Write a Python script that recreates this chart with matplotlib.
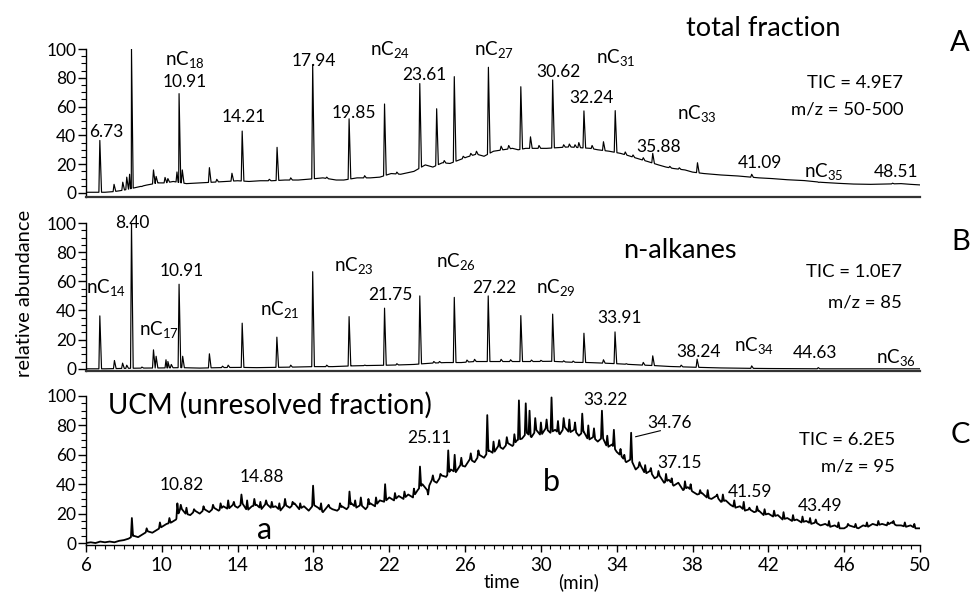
import numpy as np
import matplotlib
matplotlib.use("Agg")
import matplotlib.pyplot as plt
from matplotlib.ticker import MultipleLocator

plt.rcParams['font.family'] = ['Lato', 'DejaVu Sans']
plt.rcParams['mathtext.fontset'] = 'custom'
plt.rcParams['mathtext.rm'] = 'Lato'
plt.rcParams['mathtext.it'] = 'Lato:italic'

# ---------------- data ----------------
# Panel A: total fraction
a_base_t = [6, 6.5, 7, 7.5, 8, 8.7, 9.2, 9.8, 10.2, 10.6, 11.3, 12, 12.7, 13.4, 14, 14.6, 15.2,
            15.8, 16.5, 17.2, 17.7, 18.5, 19.2, 19.6, 20.3, 21, 21.5, 22.1, 22.6, 23.3, 23.9,
            24.3, 24.8, 25.2, 25.7, 26.1, 26.6, 27.0, 27.5, 28.0, 28.5, 28.8, 29.2, 29.8, 30.3,
            30.9, 31.5, 32.0, 32.6, 33.0, 33.6, 34.2, 34.6, 35.2, 35.6, 36.2, 36.6, 37.0, 37.6,
            38.0, 38.6, 39.5, 40.4, 41.5, 42.2, 43.0, 43.9, 44.8, 45.7, 46.5, 47.4, 48.2, 49.0,
            49.5, 50]
a_base_v = [0.5, 0.5, 0.5, 1, 2, 4, 5.5, 7, 7, 8, 6.5, 7, 7.5, 8, 8.5, 8, 8.5,
            8.5, 9, 9, 9.5, 10.5, 9, 9, 10.5, 10.5, 11, 13.5, 13, 15, 19.5,
            18, 21, 20.5, 23, 25, 27, 25.5, 29, 30, 31, 30, 31, 31, 31,
            31.5, 32, 31.5, 31, 30, 29, 27.5, 26, 23.5, 22, 19.5, 18, 17, 16,
            14.5, 13.5, 12.5, 11.8, 10.5, 10, 9.2, 8.6, 7.4, 6.7, 6.2, 6, 6.2, 6.5,
            6, 5.6]
a_peak_t = [6.73, 7.48, 7.94, 8.15, 8.30, 8.40, 8.94, 9.56, 9.70, 10.17, 10.32, 10.80, 10.91,
            11.08, 12.51, 12.9, 13.70, 14.24, 15.67, 16.08, 16.8, 17.96, 18.7, 19.88, 20.7,
            21.75, 22.4, 23.61, 24.50, 24.9, 25.43, 25.9, 26.3, 26.6, 27.23, 27.9, 28.3,
            28.94, 29.45, 29.9, 30.62, 31.2, 31.5, 31.8, 32.0, 32.27, 32.7, 33.3, 33.92,
            34.45, 34.86, 35.4, 35.90, 36.8, 37.3, 38.26, 41.12, 44.65, 48.55]
a_peak_h = [36.5, 6, 7.5, 11, 13, 100, 4.5, 16, 11.5, 10.8, 10, 14.6, 69,
            16, 17.6, 9.5, 13.7, 43, 9.5, 31.7, 10.5, 89, 11, 51.5, 12,
            61.8, 14.5, 76, 58.5, 22.5, 80.8, 25.5, 27.5, 29, 87.3, 32.5, 33,
            73.8, 39, 33, 78.5, 33.5, 34, 33.5, 35, 57, 33, 35.6, 57.2,
            28.5, 26.4, 24.5, 27.5, 18.5, 17.5, 21, 13, 7.4, 6.8]

# Panel B: n-alkanes (m/z 85)
b_base_t = [6, 7, 8, 9, 10, 11, 12, 13, 14, 15, 16, 17, 18, 19, 20, 21, 22, 22.6, 23.3, 24.2,
            25, 25.8, 26.5, 27.6, 28.5, 29.8, 30.5, 31.6, 32.5, 33.3, 34, 35.1, 36, 36.8,
            37.8, 38.6, 39.5, 40.5, 42, 45, 50]
b_base_v = [0, 0, 0.3, 0.5, 0.6, 0.8, 0.5, 0.8, 1, 0.8, 1, 1.2, 1.5, 1.5, 2, 2.3, 2.5, 2.7, 3, 3.9,
            4.3, 4.3, 5, 5, 5, 5, 5.2, 4.5, 4.3, 3.9, 3.5, 2.7, 2.2, 1.6,
            1.2, 0.9, 0.6, 0.4, 0.2, 0, 0]
b_peak_t = [6.73, 7.5, 7.93, 8.15, 8.40, 8.95, 9.56, 9.70, 10.22, 10.32, 10.5, 10.91, 11.1,
            12.51, 13.2, 13.5, 14.24, 16.07, 16.8, 17.96, 18.7, 19.88, 20.7, 21.75, 22.4,
            23.61, 24.35, 24.65, 25.43, 26.1, 26.5, 27.22, 27.9, 28.4, 28.94, 29.5, 30.0,
            30.62, 31.2, 31.7, 32.27, 33.3, 33.91, 34.5, 35.4, 35.90, 37.4, 38.24, 41.12, 44.63]
b_peak_h = [36.3, 5.7, 3.9, 2.5, 100, 1.2, 13, 8.6, 6.2, 5, 3, 58, 8.6,
            10.3, 1.8, 2.5, 31.3, 21.7, 2.5, 66.6, 2.5, 35.8, 2.5, 41.6, 3.5,
            50, 5, 5, 49, 6, 6.5, 50, 6.5, 6.2, 36.5, 6, 5.8,
            37.5, 5.5, 5.3, 24.4, 6.2, 25.3, 3.5, 4.4, 8.9, 2.5, 6.6, 2, 0.8]

# Panel C: UCM (m/z 95), hump read every 0.25 min from 6 to 50
c_base_v = [0, 0.5, 0, 1,
            0.5, 1, 0.5, 1.5,
            2, 3, 5, 4,
            6, 8, 7, 9,
            11, 13, 14, 16,
            24, 20, 19, 22,
            20, 23, 21, 24,
            22, 25, 23, 26,
            24, 27, 22, 25,
            26, 23, 27, 24,
            25, 22, 26, 24,
            27, 23, 25, 22,
            26, 24, 21, 25,
            23, 22, 25, 23,
            27, 24, 26, 23,
            27, 25, 29, 28,
            31, 29, 32, 30,
            33, 31, 36, 40,
            36, 43, 41, 46,
            45, 50, 48, 53,
            52, 57, 55, 60,
            58, 63, 61, 66,
            64, 68, 66, 70,
            71, 75, 72, 77,
            73, 78, 75, 77,
            74, 79, 75, 77,
            73, 76, 70, 72,
            69, 72, 65, 67,
            62, 59, 55, 57,
            50, 53, 47, 49,
            44, 46, 41, 43,
            39, 41, 36, 38,
            35, 33, 34, 31,
            30, 32, 28, 29,
            26, 24, 25, 22,
            23, 21, 22, 19,
            20, 18, 19, 16,
            17, 15, 16, 14,
            15, 13, 14, 12,
            13, 11, 12, 10,
            10, 12, 11, 10,
            12, 11, 13, 12,
            13, 12, 14, 12,
            12, 11, 12, 10,
            10]
c_peak_t = [8.42, 9.2, 9.9, 10.4, 10.82, 11.0, 11.3, 11.7, 12.2, 12.7, 13.1, 13.5, 13.8,
            14.2, 14.5, 14.88, 15.2, 15.5, 15.8, 16.2, 16.5, 16.9, 17.3, 17.98, 18.4, 18.8,
            19.4, 19.9, 20.2, 20.5, 20.9, 21.3, 21.78, 22.3, 22.8, 23.3, 23.62, 24.05, 24.3,
            24.7, 25.11, 25.45, 25.8, 26.3, 26.7, 27.17, 27.5, 27.8, 28.2, 28.6, 28.84, 29.2,
            29.4, 29.7, 30.0, 30.3, 30.56, 30.9, 31.2, 31.5, 31.8, 32.18, 32.5, 32.8, 33.22,
            33.5, 33.85, 34.2, 34.4, 34.76, 35.2, 35.5, 35.8, 36.2, 36.6, 36.9, 37.3, 37.6,
            37.9, 38.4, 38.8, 39.3, 39.6, 40.2, 40.7, 41.0, 41.4, 41.8, 42.3, 42.8, 43.3,
            43.8, 44.2, 44.5, 45.2, 45.7, 46.2, 46.6, 47.2, 47.8, 48.3, 48.6, 49.2, 49.7]
c_peak_h = [17, 10, 14, 17, 27, 26, 24, 23, 25, 26, 27, 29, 28,
            33, 29, 30, 28, 29, 28, 27, 30, 28, 27, 39, 27, 26,
            27, 35, 29, 31, 30, 31, 40, 34, 35, 37, 52, 33, 46,
            47, 63, 60, 58, 61, 63, 87, 69, 70, 72, 74, 97, 95,
            90, 85, 82, 84, 99, 83, 85, 84, 82, 88, 80, 78, 90,
            73, 77, 64, 60, 75, 55, 53, 51, 49, 47, 44, 40, 42,
            40, 36, 36, 33, 33, 29, 28, 24, 25, 23, 22, 21, 19,
            18, 17, 16, 15, 14, 13, 13, 14, 15, 14, 15, 14, 13]

yticks = [0, 20, 40, 60, 80, 100]
xticks = [6, 10, 14, 18, 22, 26, 30, 34, 38, 42, 46, 50]

a_labels = ['6.73', r'nC$\mathregular{_{18}}$', '10.91', '14.21', '17.94', '19.85',
            r'nC$\mathregular{_{24}}$', '23.61', r'nC$\mathregular{_{27}}$', '30.62',
            r'nC$\mathregular{_{31}}$', '32.24', r'nC$\mathregular{_{33}}$', '35.88', '41.09',
            r'nC$\mathregular{_{35}}$', '48.51']
b_labels = [r'nC$\mathregular{_{14}}$', '8.40', r'nC$\mathregular{_{17}}$', '10.91',
            r'nC$\mathregular{_{21}}$', r'nC$\mathregular{_{23}}$', '21.75', r'nC$\mathregular{_{26}}$',
            '27.22', r'nC$\mathregular{_{29}}$', '33.91', '38.24', r'nC$\mathregular{_{34}}$',
            '44.63', r'nC$\mathregular{_{36}}$']
c_labels = ['10.82', '14.88', '25.11', '33.22', '34.76', '37.15', '41.59', '43.49']

# ---------------- layout (pixel positions) ----------------
W, H = 971, 594
a_label_px = [(106, 132), (185, 60), (185, 82), (244, 117), (314, 61), (354, 113), (390, 50),
              (424, 75), (494, 50), (558, 72), (616, 57), (592, 98), (697, 114), (659, 147),
              (760, 163), (824, 172), (896, 172)]
b_label_px = [(106, 287), (132, 223), (159, 330), (182, 271), (280, 310), (354, 265), (390, 295),
              (456, 261), (494, 288), (556, 288), (620, 318), (699, 352), (754, 345), (815, 353),
              (896, 358)]
c_label_px = [(182, 485), (262, 477), (429, 438), (606, 400), (670, 423), (680, 463),
              (750, 492), (820, 506)]


def trace(bt, bv, pt, ph, wl, wr):
    bt = np.asarray(bt, float)
    bv = np.asarray(bv, float)
    keep = np.ones(bt.size, bool)
    for p in pt:
        keep &= ~((bt > p - wl) & (bt < p + wr))
    ts = list(bt[keep])
    ys = list(bv[keep])
    for p, h in zip(pt, ph):
        for tt in (p - wl, p + wr):
            ts.append(tt)
            ys.append(float(np.interp(tt, bt, bv)))
        ts.append(p)
        ys.append(h)
    order = np.argsort(ts, kind='stable')
    return np.asarray(ts)[order], np.asarray(ys)[order]


fig = plt.figure(figsize=(W / 100, H / 100), dpi=100)


def fx(x):
    return x / W


def fy(y):
    return 1 - y / H


left = 86 / W
width = (920 - 86) / W
axA = fig.add_axes([left, (H - 197.3) / H, width, 148.3 / H])
axB = fig.add_axes([left, (H - 371) / H, width, 148 / H])
axC = fig.add_axes([left, (H - 544.5) / H, width, 148.5 / H])

tA = trace(a_base_t, a_base_v, a_peak_t, a_peak_h, 0.05, 0.09)
tB = trace(b_base_t, b_base_v, b_peak_t, b_peak_h, 0.05, 0.09)
c_t = np.linspace(6, 50, len(c_base_v))
tC = trace(c_t, c_base_v, c_peak_t, c_peak_h, 0.05, 0.06)

axA.plot(*tA, color='black', lw=0.85)
axB.plot(*tB, color='black', lw=0.85)
axC.plot(*tC, color='black', lw=1.3)

for ax, ylo in ((axA, -3), (axB, -1.5), (axC, -1)):
    ax.set_xlim(6, 50)
    ax.set_ylim(ylo, 100)
    ax.spines['top'].set_visible(False)
    ax.spines['right'].set_visible(False)
    ax.spines['left'].set_linewidth(1.0)
    ax.spines['bottom'].set_linewidth(1.6)
    ax.spines['bottom'].set_color('#333333')
    ax.set_yticks(yticks)
    ax.yaxis.set_minor_locator(MultipleLocator(5))
    ax.tick_params(axis='y', which='major', length=6, width=1.0, pad=1, labelsize=12.5)
    ax.tick_params(axis='y', which='minor', length=3.3, width=0.8)
    ax.patch.set_alpha(0)

for ax in (axA, axB):
    ax.set_xticks([])
    ax.tick_params(axis='x', which='both', length=0)

axC.spines['bottom'].set_linewidth(1.0)
axC.spines['bottom'].set_color('black')
axC.set_xticks(xticks)
axC.xaxis.set_minor_locator(MultipleLocator(0.5))
axC.tick_params(axis='x', which='major', length=5, width=1.0, pad=4, labelsize=13.5)
axC.tick_params(axis='x', which='minor', length=2.8, width=0.8)

# peak labels
for labels, pos in ((a_labels, a_label_px), (b_labels, b_label_px), (c_labels, c_label_px)):
    for (x, y), s in zip(pos, labels):
        fs = 13.5 if s.startswith('nC') else 12.5
        fig.text(fx(x), fy(y), s, ha='center', va='center', fontsize=fs)

# leader line for 34.76
axC.plot([35.0, 36.3], [72.3, 76.4], color='black', lw=0.8)

# titles and info
fig.text(fx(763), fy(28), 'total fraction', ha='center', va='center', fontsize=19.5)
fig.text(fx(903), fy(83), 'TIC = 4.9E7', ha='right', va='center', fontsize=13.3)
fig.text(fx(903), fy(110), 'm/z = 50-500', ha='right', va='center', fontsize=13.3)
fig.text(fx(680), fy(250), 'n-alkanes', ha='center', va='center', fontsize=19.5)
fig.text(fx(902), fy(272), 'TIC = 1.0E7', ha='right', va='center', fontsize=13.3)
fig.text(fx(902), fy(302), 'm/z = 85', ha='right', va='center', fontsize=13.3)
fig.text(fx(108), fy(405), 'UCM (unresolved fraction)', ha='left', va='center', fontsize=20)
fig.text(fx(895), fy(440), 'TIC = 6.2E5', ha='right', va='center', fontsize=13.3)
fig.text(fx(895), fy(467), 'm/z = 95', ha='right', va='center', fontsize=13.3)
fig.text(fx(265), fy(530), 'a', ha='center', va='center', fontsize=22)
fig.text(fx(551), fy(482), 'b', ha='center', va='center', fontsize=22)

fig.text(fx(960), fy(43), 'A', ha='center', va='center', fontsize=21)
fig.text(fx(961), fy(242), 'B', ha='center', va='center', fontsize=21)
fig.text(fx(960), fy(435), 'C', ha='center', va='center', fontsize=21)

fig.text(fx(25), fy(293), 'relative abundance', rotation=90, ha='center', va='center', fontsize=14.5)
fig.text(fx(502), fy(582), 'time', ha='center', va='center', fontsize=13.5)
fig.text(fx(579), fy(582), '(min)', ha='center', va='center', fontsize=13.5)

fig.savefig('out.png', dpi=100)
